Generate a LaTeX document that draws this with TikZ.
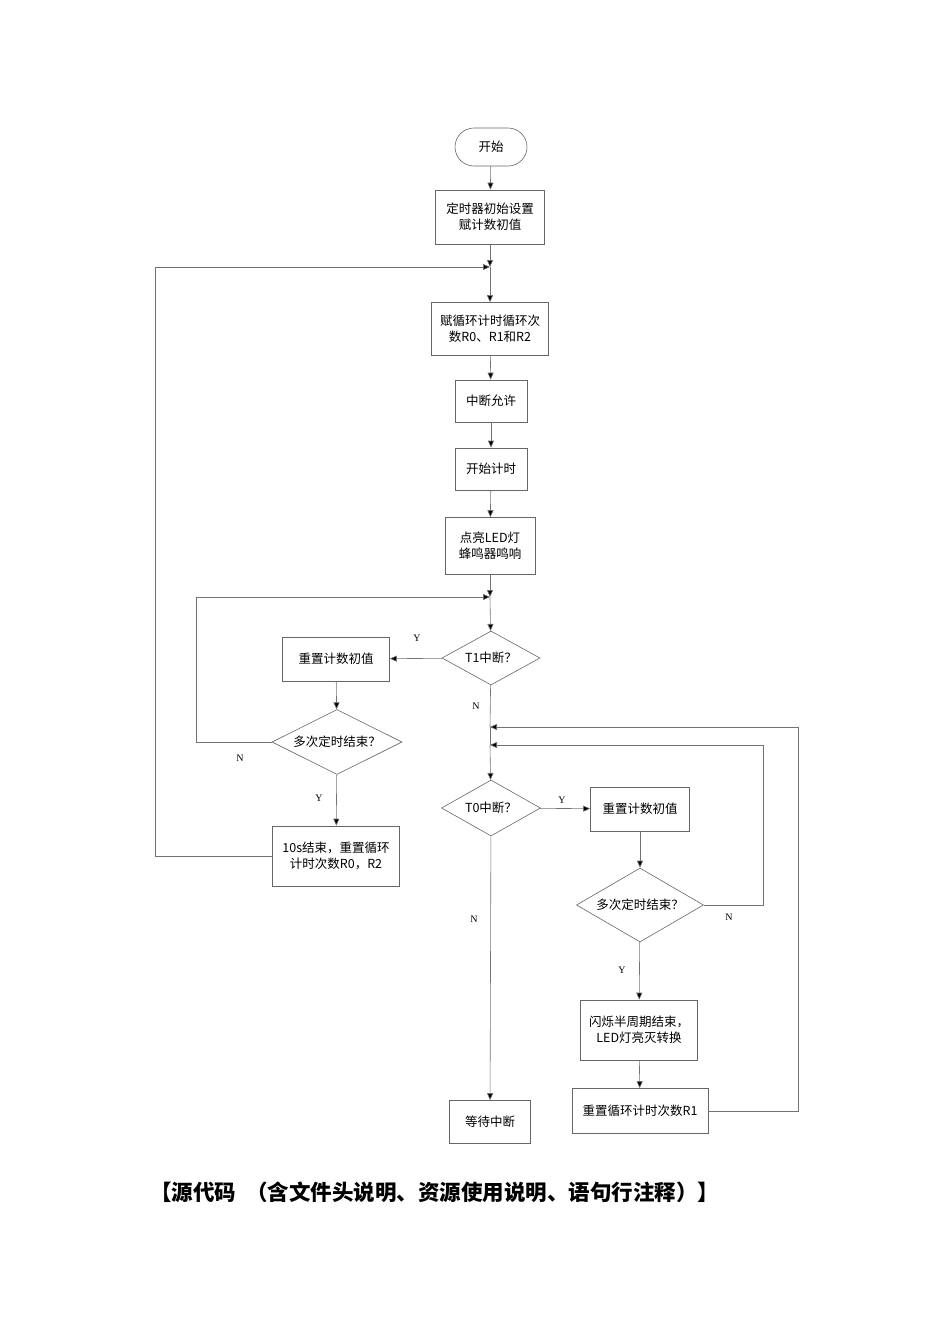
\documentclass[tikz,border=0pt]{standalone}
\usepackage{fontspec}
\setmainfont{Liberation Serif}
\newfontfamily\cjk{Noto Sans CJK SC}
\usetikzlibrary{shapes.geometric,arrows.meta}
\begin{document}
\begin{tikzpicture}[x=1pt,y=-1pt,
  box/.style={draw=black!60,line width=0.6pt,fill=white,align=center,font=\cjk\fontsize{12.5}{16}\selectfont,inner sep=0pt},
  dia/.style={draw=black!60,line width=0.6pt,diamond,aspect=1.8,inner sep=0pt,font=\cjk\fontsize{12.5}{16}\selectfont},
  ln/.style={draw=black!55,line width=0.6pt},
  ar/.style={ln,-{Triangle[length=7pt,width=6pt,fill=black]}},
  lab/.style={font=\fontsize{10}{11}\selectfont}]
\useasboundingbox (0,0) rectangle (950,1344);
\node[box,rounded corners=19pt,minimum width=72pt,minimum height=38pt] (s) at (491,147) {开始};
\node[box,minimum width=109pt,minimum height=54pt] (i) at (490,217) {定时器初始设置\\赋计数初值};
\coordinate (j1) at (490,267);
\node[box,minimum width=117pt,minimum height=53pt] (b2) at (490,329) {赋循环计时循环次\\数R0、R1和R2};
\node[box,minimum width=72pt,minimum height=42pt] (b3) at (491,401) {中断允许};
\node[box,minimum width=72pt,minimum height=42pt] (b4) at (491,469) {开始计时};
\node[box,minimum width=90pt,minimum height=57pt] (b5) at (490,546) {点亮LED灯\\蜂鸣器鸣响};
\coordinate (j2) at (490,597);
\node[dia,minimum width=98pt,minimum height=54pt] (t1) at (491,658) {T1中断？};
\node[box,minimum width=107pt,minimum height=44pt] (rl) at (336,659) {重置计数初值};
\node[dia,minimum width=130pt,minimum height=65pt] (dl) at (337,742) {多次定时结束？};
\node[box,minimum width=127pt,minimum height=60pt] (b10) at (336,856) {10s结束，重置循环\\计时次数R0，R2};
\coordinate (j3) at (490,727);
\coordinate (j4) at (490,745);
\node[dia,minimum width=99pt,minimum height=56pt] (t0) at (491,808) {T0中断？};
\node[box,minimum width=99pt,minimum height=44pt] (rr) at (640,809) {重置计数初值};
\node[dia,minimum width=127pt,minimum height=74pt] (dr) at (640,905) {多次定时结束？};
\node[box,minimum width=117pt,minimum height=60pt] (fl) at (639,1030) {闪烁半周期结束，\\LED灯亮灭转换};
\node[box,minimum width=136pt,minimum height=45pt] (r1) at (640,1111) {重置循环计时次数R1};
\node[box,minimum width=81pt,minimum height=43pt] (w) at (490,1122) {等待中断};
\draw[ar] (s) -- (i);
\draw[ar] (i) -- (j1);
\draw[ar] (j1) -- (b2);
\draw[ar] (b2) -- (b3);
\draw[ar] (b3) -- (b4);
\draw[ar] (b4) -- (b5);
\draw[ar] (b5) -- (j2);
\draw[ar] (j2) -- (t1);
\draw[ar] (t1) -- (rl);
\draw[ar] (rl) -- (dl);
\draw[ar] (dl) -- (b10);
\draw[ar] (dl.west) -- (196,742) -- (196,597) -- (j2);
\draw[ar] (b10.west) -- (155,856) -- (155,267) -- (j1);
\draw[ln] (t1) -- (j3);
\draw[ar] (j4) -- (t0);
\draw[ln] (j3) -- (j4);
\draw[ar] (t0) -- (rr);
\draw[ar] (t0) -- (w);
\draw[ar] (rr) -- (dr);
\draw[ar] (dr) -- (fl);
\draw[ar] (fl) -- (r1);
\draw[ar] (dr.east) -- (763,905) -- (763,745) -- (j4);
\draw[ar] (r1.east) -- (798,1111) -- (798,727) -- (j3);
\node[lab] (y1) at (417,638) {Y};
\node[lab] (n1) at (240,758) {N};
\node[lab] (y2) at (319,798) {Y};
\node[lab] (n2) at (476,706) {N};
\node[lab] (y3) at (562,800) {Y};
\node[lab] (n3) at (729,917) {N};
\node[lab] (y4) at (622,970) {Y};
\node[lab] (n4) at (474,919) {N};
\node[font=\cjk\bfseries\fontsize{21.5}{25}\selectfont,anchor=west,inner sep=0pt] (ft) at (150,1192) {【源代码\ \ （含文件头说明、资源使用说明、语句行注释）】};
\end{tikzpicture}
\end{document}
